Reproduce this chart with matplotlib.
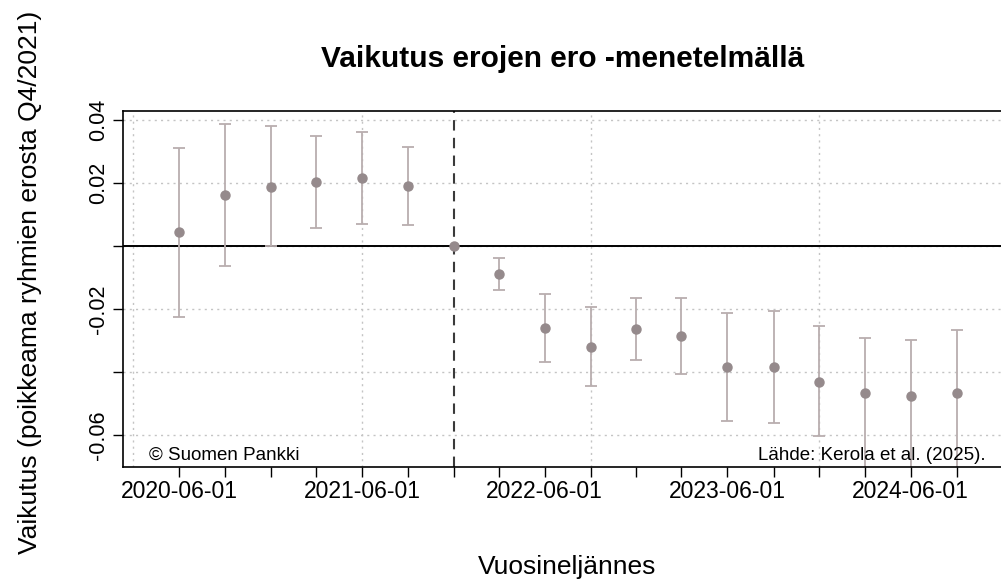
import numpy as np
import pandas as pd
import matplotlib
matplotlib.use("Agg")
import matplotlib.pyplot as plt

plt.rcParams['font.family'] = ['Liberation Sans', 'DejaVu Sans']

# Data
quarters = pd.date_range("2020-06-01", periods=18, freq="3MS")
estimate = [0.0044, 0.0161, 0.0187, 0.0202, 0.0217, 0.0190, 0.0, -0.0089, -0.0262,
            -0.0320, -0.0263, -0.0287, -0.0385, -0.0385, -0.0431, -0.0468, -0.0478, -0.0468]
upper = [0.0312, 0.0387, 0.0381, 0.0349, 0.0363, 0.0314, np.nan, -0.0037, -0.0152,
         -0.0193, -0.0164, -0.0166, -0.0214, -0.0205, -0.0254, -0.0293, -0.0298, -0.0267]
lower = [-0.0225, -0.0063, 0.0, 0.0058, 0.0071, 0.0066, np.nan, -0.0140, -0.0370,
         -0.0444, -0.0362, -0.0406, -0.0555, -0.0563, -0.0605, -0.0720, -0.0730, -0.0740]
reference_date = pd.Timestamp("2021-12-01")
x_labels = {"2020-06-01", "2021-06-01", "2022-06-01", "2023-06-01", "2024-06-01"}
y_ticks = [-0.06, -0.04, -0.02, 0.0, 0.02, 0.04]
y_labels = ["-0.06", "", "-0.02", "", "0.02", "0.04"]
grid_dates = pd.to_datetime(["2020-03-01", "2021-06-01", "2022-09-01", "2023-12-01"])

est = np.array(estimate)
err = np.array([est - np.array(lower), np.array(upper) - est])

fig = plt.figure(figsize=(10.01, 5.81), dpi=100)
ax = fig.add_axes([0.1229, 0.1962, 0.883, 0.613])

# grid
for d in grid_dates:
    ax.axvline(d, color="#c4c4c4", lw=1.0, ls=(0, (1.5, 3)), zorder=0)
for v in y_ticks:
    ax.axhline(v, color="#c4c4c4", lw=1.0, ls=(0, (1.5, 3)), zorder=0)

ax.axhline(0, color="black", lw=1.4, zorder=1)
ax.axvline(reference_date, color="#3a3a3a", lw=1.5, ls=(0, (5, 3.5)), zorder=1)

ax.errorbar(quarters, est, yerr=err, fmt="none", ecolor="#b9aeaf", elinewidth=1.3,
            capsize=4, capthick=1.3, zorder=2)
ax.plot(quarters, est, "o", color="#958a8c", ms=6.5, zorder=3)

start = quarters[0]
ax.set_xlim(start - pd.Timedelta(days=112), start + pd.Timedelta(days=1653))
ax.set_ylim(-0.0702, 0.0429)

ax.set_xticks(quarters)
ax.set_xticklabels([d.strftime("%Y-%m-%d") if d.strftime("%Y-%m-%d") in x_labels else ""
                    for d in quarters], fontsize=16.5)
ax.set_yticks(y_ticks)
ax.set_yticklabels(y_labels, rotation=90, va="center", fontsize=15.5)
ax.tick_params(axis="x", direction="out", length=7, width=1, pad=2)
ax.tick_params(axis="y", direction="out", length=7, width=1, pad=3)

for s in ["left", "bottom", "top", "right"]:
    ax.spines[s].set_linewidth(1.2)

ax.text(0.0295, 0.02, "© Suomen Pankki", transform=ax.transAxes, fontsize=13.5,
        ha="left", va="baseline")
ax.text(0.976, 0.02, "Lähde: Kerola et al. (2025).", transform=ax.transAxes,
        fontsize=13.5, ha="right", va="baseline")

fig.text(563 / 1001, 1 - 59 / 581, "Vaikutus erojen ero -menetelmällä", fontsize=21.5,
         fontweight="bold", ha="center", va="center")
fig.text(567 / 1001, 1 - 567 / 581, "Vuosineljännes", fontsize=19, ha="center", va="center")
fig.text(30 / 1001, 1 - 282 / 581, "Vaikutus (poikkeama ryhmien erosta Q4/2021)",
         fontsize=19, rotation=90, ha="center", va="center")

fig.savefig("out.png", dpi=100)
